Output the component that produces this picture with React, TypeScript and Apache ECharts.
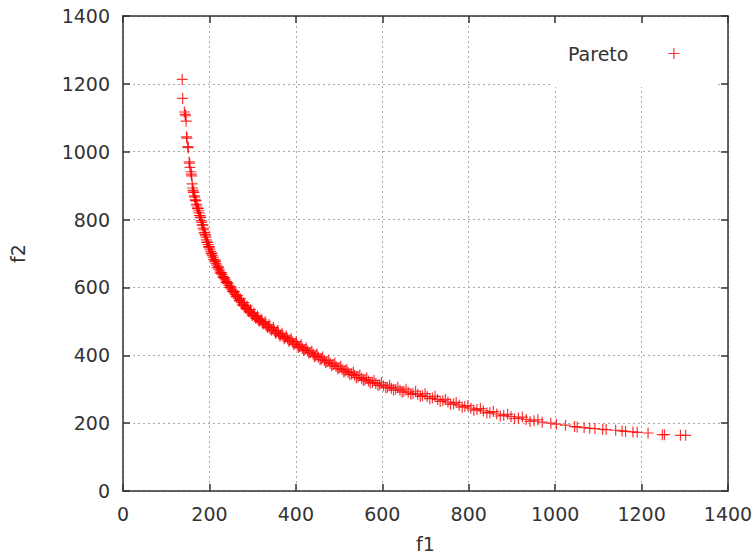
import React, { useEffect, useRef } from 'react';
import * as echarts from 'echarts';

const f1 = [
  137, 138, 142, 144, 145, 146, 147, 148, 150, 151,
  153, 154, 155, 157, 158, 159, 161, 162, 163, 165,
  166, 168, 170, 171, 173, 175, 176, 178, 179, 181,
  182, 184, 186, 187, 189, 190, 192, 193, 195, 197,
  199, 201, 203, 205, 207, 209, 211, 213, 215, 217,
  220, 222, 224, 227, 229, 232, 234, 237, 240, 242,
  245, 248, 251, 254, 257, 260, 263, 267, 270, 274,
  278, 281, 285, 289, 293, 297, 301, 305, 309, 313,
  317, 322, 326, 331, 336, 340, 345, 350, 355, 360,
  365, 370, 375, 381, 386, 392, 398, 403, 409, 415,
  421, 427, 433, 440, 446, 452, 459, 466, 472, 479,
  486, 493, 500, 507, 514, 521, 529, 536, 544, 552,
  560, 568, 577, 585, 594, 603, 612, 621, 631, 641,
  650, 660, 671, 682, 693, 704, 716, 728, 740, 752,
  765, 778, 791, 805, 819, 834, 849, 865, 881, 898,
  915, 933, 951, 970, 990, 1003, 1024, 1045, 1051, 1067,
  1080, 1092, 1110, 1118, 1140, 1155, 1163, 1180, 1190, 1215,
  1248, 1253, 1290, 1302,
];

const f2 = [
  1213, 1157, 1117, 1110, 1106, 1090, 1044, 1040, 1015, 1012,
  970, 966, 954, 941, 934, 929, 893, 886, 881, 870,
  866, 857, 845, 840, 832, 826, 820, 812, 806, 797,
  792, 784, 775, 770, 762, 755, 748, 740, 733, 726,
  720, 713, 706, 700, 694, 689, 683, 677, 671, 666,
  659, 654, 649, 643, 638, 632, 627, 622, 617, 612,
  606, 600, 595, 590, 584, 579, 574, 568, 562, 556,
  550, 545, 540, 535, 530, 525, 520, 515, 511, 506,
  502, 498, 494, 489, 484, 480, 476, 472, 468, 464,
  460, 456, 452, 448, 444, 439, 434, 430, 426, 421,
  417, 413, 408, 403, 399, 394, 389, 385, 381, 376,
  372, 367, 362, 358, 354, 349, 345, 341, 336, 332,
  328, 324, 320, 317, 313, 310, 306, 303, 300, 297,
  294, 291, 288, 285, 281, 278, 274, 270, 266, 262,
  257, 253, 249, 244, 240, 236, 231, 227, 223, 219,
  215, 211, 207, 203, 200, 197, 194, 190, 189, 187,
  185, 184, 182, 181, 179, 177, 176, 174, 173, 171,
  166, 166, 164, 164,
];

// Additional solutions in the dense part of the front (f1, f2)
const denseBand: [number, number][] = [
  [160, 905], [164, 880], [167, 858], [169, 855], [172, 834], [174, 833], [177, 812], [180, 807],
  [183, 784], [185, 784], [188, 761], [191, 755], [194, 733], [196, 733], [198, 719], [200, 720],
  [204, 699], [206, 701], [210, 682], [214, 678], [218, 658], [221, 661], [225, 642], [228, 644],
  [231, 630], [235, 629], [239, 615], [243, 613], [247, 599], [250, 601], [253, 588], [258, 588],
  [262, 572], [265, 576], [269, 561], [272, 566], [276, 548], [280, 555], [284, 538], [287, 545],
  [291, 528], [295, 535], [299, 517], [303, 525], [307, 509], [311, 516], [315, 500], [320, 507],
  [324, 492], [329, 499], [334, 482], [338, 490], [343, 474], [348, 482], [353, 465], [358, 473],
  [363, 457], [368, 465], [373, 449], [378, 457], [384, 441], [389, 449], [395, 432], [401, 440],
  [406, 423], [412, 431], [418, 414], [424, 422], [430, 406], [437, 413], [443, 396], [449, 404],
  [456, 387], [462, 395], [469, 378], [476, 386], [483, 369], [490, 377], [497, 360], [504, 368],
  [511, 351], [518, 359], [525, 343], [533, 351], [540, 334], [548, 342], [556, 326], [564, 334],
  [572, 318], [581, 326], [590, 311], [598, 319], [608, 304], [617, 312], [626, 297], [636, 306],
  [646, 291], [655, 300], [666, 285], [677, 294], [688, 279], [699, 287], [710, 272], [722, 279],
  [734, 264], [746, 270], [758, 256], [771, 261], [785, 247], [798, 252], [812, 238], [827, 243],
  [842, 230], [857, 234], [873, 221], [890, 226], [906, 213], [924, 218], [942, 205], [960, 210],
];

const seriesName = 'Pareto';
const xName = 'f1';
const yName = 'f2';

const FONT = 'DejaVu Sans';
const AXIS_COLOR = '#333';

export default function App() {
  const ref = useRef<HTMLDivElement>(null);

  useEffect(() => {
    const chart = echarts.init(ref.current!, null, { renderer: 'svg' });
    const plus = 'path://M0,5.5L11,5.5M5.5,0L5.5,11';
    const legendIcon = 'path://M0,0M35,5.5L46,5.5M40.5,0L40.5,11';
    const data = f1.map((x, i) => [x, f2[i]]).concat(denseBand.map((p) => [p[0], p[1]]));

    const axisCommon = {
      type: 'value' as const,
      min: 0,
      max: 1400,
      interval: 200,
      axisLine: { show: true, onZero: false, lineStyle: { color: AXIS_COLOR, width: 1.5 } },
      axisTick: { show: true, inside: true, length: 7, lineStyle: { color: AXIS_COLOR, width: 1.5 } },
    };
    const labelStyle = { color: AXIS_COLOR, fontSize: 19, fontFamily: FONT };
    const fmt = (v: number) => String(v);
    const splitLine = { show: true, lineStyle: { color: '#aaa', type: [2, 3] as any, width: 1 } };

    chart.setOption({
      animation: false,
      backgroundColor: '#fff',
      grid: { left: 123, right: 28, top: 16, bottom: 64, containLabel: false },
      legend: {
        data: [{ name: seriesName, icon: legendIcon }],
        left: 552,
        top: 17,
        align: 'right',
        orient: 'horizontal',
        selectedMode: false,
        itemWidth: 46,
        itemHeight: 11,
        padding: [27, 36, 24, 16],
        backgroundColor: '#fff',
        textStyle: labelStyle,
        itemStyle: { color: '#ff0000', borderColor: '#ff0000', borderWidth: 1.2 },
      },
      xAxis: [
        {
          ...axisCommon,
          position: 'bottom',
          axisLabel: { ...labelStyle, margin: 13, formatter: fmt },
          splitLine,
          name: xName,
          nameLocation: 'middle',
          nameGap: 43,
          nameTextStyle: labelStyle,
        },
        {
          ...axisCommon,
          position: 'top',
          axisLabel: { show: false },
          splitLine: { show: false },
          z: 10,
        },
      ],
      yAxis: [
        {
          ...axisCommon,
          position: 'left',
          axisLabel: { ...labelStyle, margin: 13, formatter: fmt },
          splitLine,
          name: yName,
          nameLocation: 'middle',
          nameGap: 96,
          nameTextStyle: labelStyle,
        },
        {
          ...axisCommon,
          position: 'right',
          axisLabel: { show: false },
          splitLine: { show: false },
          z: 10,
        },
      ],
      series: [
        {
          type: 'scatter',
          name: seriesName,
          xAxisIndex: 0,
          yAxisIndex: 0,
          data,
          symbol: plus,
          symbolSize: 11,
          itemStyle: { color: '#ff0000', borderColor: '#ff0000', borderWidth: 1.2 },
          emphasis: { disabled: true },
        },
      ],
    });

    return () => chart.dispose();
  }, []);

  return (
    <div
      ref={ref}
      style={{ position: 'fixed', left: 0, top: 0, width: 756, height: 558, background: '#fff' }}
    />
  );
}
